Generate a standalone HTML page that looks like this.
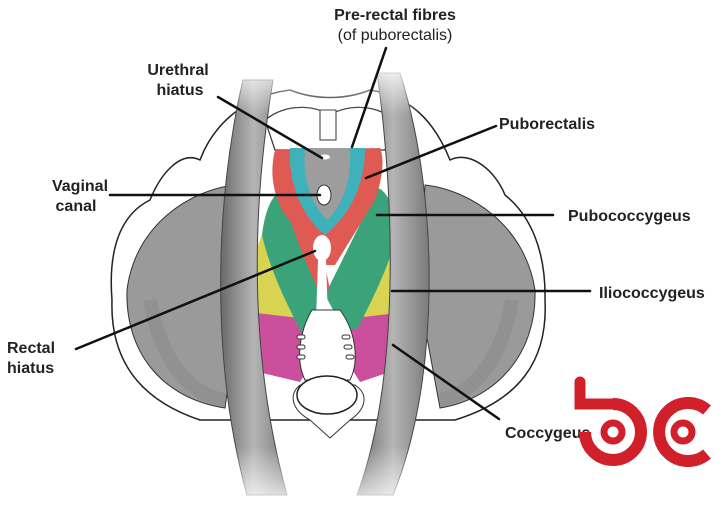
<!DOCTYPE html>
<html><head><meta charset="utf-8"><style>
html,body{margin:0;padding:0;background:#fff;}
svg{display:block}
text{font-family:"Liberation Sans",sans-serif;font-size:16px;font-weight:bold;fill:#222}
</style></head><body>
<svg width="722" height="514" viewBox="0 0 722 514" xmlns="http://www.w3.org/2000/svg">
<defs>
<linearGradient id="bandL" x1="0" x2="1"><stop offset="0" stop-color="#6a6a6a"/><stop offset=".5" stop-color="#b5b5b5"/><stop offset="1" stop-color="#7a7a7a"/></linearGradient>
<linearGradient id="fade" x1="0" y1="0" x2="0" y2="1"><stop offset="0" stop-color="#fff" stop-opacity="1"/><stop offset=".12" stop-color="#fff" stop-opacity="0"/><stop offset=".85" stop-color="#fff" stop-opacity="0"/><stop offset="1" stop-color="#fff" stop-opacity="1"/></linearGradient>
</defs>
<path d="M200 160 C180 150 160 175 150 200 C120 215 108 250 112 300 C110 360 140 400 200 420 L455 420 C520 400 548 360 545 300 C546 250 530 215 505 195 C495 170 470 150 450 160 C430 110 400 95 370 90 C345 100 315 100 290 90 C250 95 215 120 200 160 Z" fill="#fff" stroke="#222" stroke-width="1.5"/>
<path d="M235 185 C190 190 135 225 127 290 C125 350 160 398 225 408 L240 300 Z" fill="#9a9a9a" stroke="#333" stroke-width="1"/>
<path d="M425 185 C470 190 525 225 535 290 C537 350 500 398 440 408 L420 300 Z" fill="#9a9a9a" stroke="#333" stroke-width="1"/>
<path d="M150 300 C160 360 190 395 225 400" fill="none" stroke="#888" stroke-width="14" opacity=".5"/>
<path d="M512 300 C502 360 472 395 440 400" fill="none" stroke="#888" stroke-width="14" opacity=".5"/>
<path d="M265 120 C290 100 320 108 330 115 C340 108 370 100 395 120 L385 150 L275 150 Z" fill="#fff" stroke="#333" stroke-width="1.2"/>
<rect x="320" y="110" width="16" height="30" fill="#fff" stroke="#333"/>
<path d="M250 310 C250 280 255 250 262 235 L300 240 L305 330 L250 320 Z" fill="#d8d451"/>
<path d="M405 310 C405 280 400 250 395 230 L360 240 L355 330 L405 320 Z" fill="#d8d451"/>
<path d="M248 312 L300 318 L320 350 L300 382 L250 370 Z" fill="#cc4f9e"/>
<path d="M405 312 L355 318 L340 350 L360 382 L402 368 Z" fill="#cc4f9e"/>
<path d="M262 235 C265 210 272 195 282 190 L330 290 L315 335 L300 330 C285 300 270 270 262 235 Z" fill="#3aa37a"/>
<path d="M398 230 C395 205 385 190 378 188 L325 295 L345 332 L358 328 C372 300 390 265 398 230 Z" fill="#3aa37a"/>
<path d="M275 150 L290 150 L320 240 L330 290 L318 290 C300 250 280 200 275 150 Z" fill="#e05a54"/>
<path d="M275 150 C270 170 272 190 282 210 L320 265 L335 265 L375 200 C382 180 385 160 380 148 Z" fill="#e05a54"/>
<path d="M290 148 C288 180 300 215 325 235 C350 215 365 185 365 148 Z" fill="#3fb1ba"/>
<path d="M305 148 C302 180 312 205 327 220 C343 205 352 180 350 148 Z" fill="#9d9d9d"/>
<ellipse cx="324" cy="195" rx="7" ry="10" fill="#fff" stroke="#333"/>
<ellipse cx="325" cy="157" rx="5" ry="2.5" fill="#fff"/>
<ellipse cx="322" cy="248" rx="9" ry="13" fill="#fff"/>
<path d="M318 260 L326 260 L328 320 L316 320 Z" fill="#fff"/>
<path d="M312 310 L340 310 C355 330 360 360 350 380 L305 380 C295 360 300 330 312 310 Z" fill="#fff" stroke="#333" stroke-width="1"/>
<path d="M300 385 L355 385 C370 395 365 410 350 420 L330 438 L310 420 C292 410 288 395 300 385 Z" fill="#fff" stroke="#333"/>
<ellipse cx="327" cy="395" rx="30" ry="19" fill="#fff" stroke="#222" stroke-width="1.5"/>
<g fill="#fff" stroke="#333"><rect x="297" y="335" width="8" height="4" rx="2"/><rect x="297" y="345" width="8" height="4" rx="2"/><rect x="297" y="355" width="8" height="4" rx="2"/><rect x="342" y="335" width="8" height="4" rx="2"/><rect x="344" y="345" width="8" height="4" rx="2"/><rect x="346" y="355" width="8" height="4" rx="2"/></g>
<path d="M243 80 C215 200 210 360 247 495 L287 495 C250 360 250 220 273 80 Z" fill="url(#bandL)" stroke="#444" stroke-width="1"/>
<path d="M377 73 C395 200 400 380 357 495 L393 495 C440 380 440 200 400 73 Z" fill="url(#bandL)" stroke="#444" stroke-width="1"/>
<rect x="200" y="60" width="260" height="454" fill="url(#fade)"/>
<g stroke="#111" stroke-width="2.5" stroke-linecap="round">
<line x1="386" y1="48" x2="352" y2="147"/>
<line x1="218" y1="97" x2="322" y2="158"/>
<line x1="496" y1="126" x2="366" y2="178"/>
<line x1="110" y1="195" x2="320" y2="195"/>
<line x1="377" y1="215" x2="553" y2="215"/>
<line x1="392" y1="291" x2="590" y2="291"/>
<line x1="76" y1="349" x2="315" y2="251"/>
<line x1="393" y1="345" x2="499" y2="419"/>
</g>
<text x="395" y="20" text-anchor="middle">Pre-rectal fibres</text>
<text x="395" y="40" text-anchor="middle" style="font-weight:normal">(of puborectalis)</text>
<text x="178" y="75" text-anchor="middle">Urethral</text>
<text x="180" y="95" text-anchor="middle">hiatus</text>
<text x="499" y="129">Puborectalis</text>
<text x="80" y="191" text-anchor="middle">Vaginal</text>
<text x="76" y="211" text-anchor="middle">canal</text>
<text x="568" y="221">Pubococcygeus</text>
<text x="599" y="298">Iliococcygeus</text>
<text x="7" y="353">Rectal</text>
<text x="7" y="373">hiatus</text>
<text x="505" y="438">Coccygeus</text>
<g fill="none" stroke="#d0202a">
<path d="M580 382 L580 404 L613 404" stroke-width="11" stroke-linecap="round"/>
<path d="M613 404 A28 28 0 1 1 585 432" stroke-width="12"/>
<circle cx="613" cy="432" r="9" stroke-width="7"/>
<path d="M707 410 A29 29 0 1 0 707 454" stroke-width="12"/>
<circle cx="683" cy="432" r="9" stroke-width="7"/>
</g>
</svg>
</body></html>
